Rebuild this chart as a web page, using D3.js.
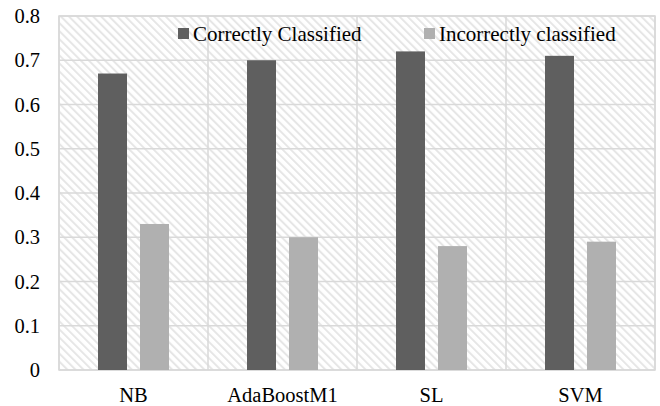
<!DOCTYPE html>
<html>
<head>
<meta charset="utf-8">
<script src="https://cdn.jsdelivr.net/npm/d3@7"></script>
<style>
  html, body { margin: 0; padding: 0; background: #fff; }
</style>
</head>
<body>
<svg id="chart" width="660" height="406"></svg>
<script>
const categories = ["NB", "AdaBoostM1", "SL", "SVM"];
const seriesNames = ["Correctly Classified", "Incorrectly classified"];
const correct = [0.67, 0.70, 0.72, 0.71];
const incorrect = [0.33, 0.30, 0.28, 0.29];
const yTicks = [0, 0.1, 0.2, 0.3, 0.4, 0.5, 0.6, 0.7, 0.8];
const colors = ["#5f5f5f", "#b0b0b0"];
const FONT = "Liberation Serif";

const svg = d3.select("#chart");
const m = { left: 59, right: 5, top: 16, bottom: 36 };
const W = 660, H = 406;
const iw = W - m.left - m.right, ih = H - m.top - m.bottom;

// light diagonal hatch behind the plot
const defs = svg.append("defs");
const P = 5.7;
const pat = defs.append("pattern")
  .attr("id", "hatch").attr("patternUnits", "userSpaceOnUse")
  .attr("width", P).attr("height", P)
  .attr("patternTransform", "rotate(-45)");
pat.append("rect").attr("width", P).attr("height", P).attr("fill", "#fff");
pat.append("rect").attr("x", 0).attr("y", 0).attr("width", 2).attr("height", P).attr("fill", "#e6e6e6");

const g = svg.append("g").attr("transform", `translate(${m.left},${m.top})`);

const x0 = d3.scaleBand().domain(categories).range([0, iw]).padding(0);
const groupW = 71;
const off = (x0.bandwidth() - groupW) / 2;
const x1 = d3.scaleBand().domain(seriesNames).range([off, off + groupW])
  .paddingInner(13 / 42).paddingOuter(0);
const y = d3.scaleLinear().domain([0, 0.8]).range([ih, 0]);

g.append("rect").attr("width", iw).attr("height", ih).attr("fill", "url(#hatch)");

// horizontal gridlines
g.append("g").selectAll("line").data(yTicks).join("line")
  .attr("x1", 0).attr("x2", iw)
  .attr("y1", d => y(d)).attr("y2", d => y(d))
  .attr("stroke", "#d9d9d9").attr("stroke-width", 1.5);

// vertical gridlines at category boundaries
const bounds = categories.map(c => x0(c)).concat([iw]);
g.append("g").selectAll("line").data(bounds).join("line")
  .attr("x1", d => d).attr("x2", d => d)
  .attr("y1", 0).attr("y2", ih)
  .attr("stroke", "#d9d9d9").attr("stroke-width", 1.5);

g.append("rect").attr("width", iw).attr("height", ih)
  .attr("fill", "none").attr("stroke", "#d9d9d9").attr("stroke-width", 1.5);

// bars
const rows = categories.map((c, i) => ({ c, vals: [correct[i], incorrect[i]] }));
const grp = g.append("g").selectAll("g").data(rows).join("g")
  .attr("transform", d => `translate(${x0(d.c)},0)`);
grp.selectAll("rect").data(d => d.vals.map((v, k) => ({ k, v }))).join("rect")
  .attr("x", d => x1(seriesNames[d.k]))
  .attr("width", x1.bandwidth())
  .attr("y", d => y(d.v))
  .attr("height", d => ih - y(d.v))
  .attr("fill", d => colors[d.k]);

// y axis labels
const yAxis = d3.axisLeft(y).tickValues(yTicks).tickSize(0).tickPadding(19)
  .tickFormat(d => d === 0 ? "0" : d3.format(".1f")(d));
const ya = g.append("g").call(yAxis);
ya.select(".domain").remove();
ya.selectAll("text").style("font-family", FONT).style("font-size", "20.5px").attr("fill", "#000");

// x axis labels
const xAxis = d3.axisBottom(x0).tickSize(0).tickPadding(17.5);
const xa = g.append("g").attr("transform", `translate(0,${ih})`).call(xAxis);
xa.select(".domain").remove();
xa.selectAll("text").style("font-family", FONT).style("font-size", "20.5px").attr("fill", "#000");

// legend
const legendX = [178, 424];
const lg = svg.append("g").selectAll("g").data(seriesNames).join("g")
  .attr("transform", (d, i) => `translate(${legendX[i]},28)`);
lg.append("rect").attr("width", 11).attr("height", 11).attr("fill", (d, i) => colors[i]);
lg.append("text").attr("x", 15).attr("y", 13)
  .style("font-family", FONT).style("font-size", "21px").attr("fill", "#000").text(d => d);
</script>
</body>
</html>
